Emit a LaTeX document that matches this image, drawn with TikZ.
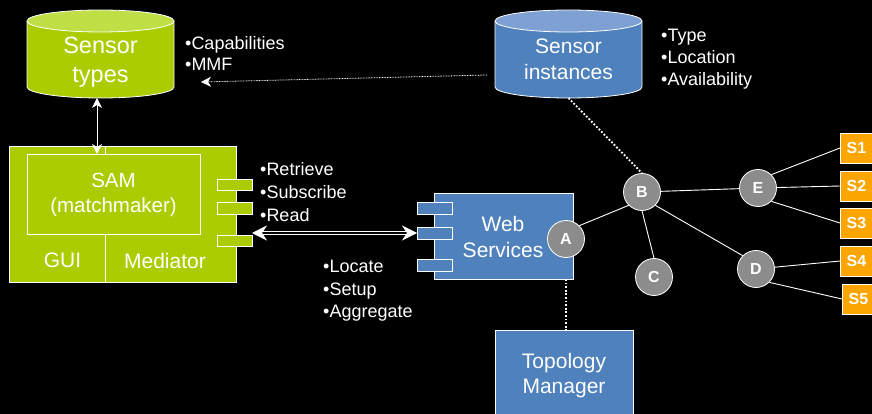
\documentclass[tikz,border=0pt]{standalone}
\usepackage{fontspec}
\setmainfont{Liberation Sans}
\usetikzlibrary{arrows.meta,calc}
\definecolor{limefill}{RGB}{170,204,0}
\definecolor{limetop}{RGB}{192,222,70}
\definecolor{bluefill}{RGB}{79,129,189}
\definecolor{bluetop}{RGB}{126,160,210}
\definecolor{nodegray}{RGB}{140,140,140}
\definecolor{sensororange}{RGB}{250,165,0}

\begin{document}
\begin{tikzpicture}[x=1pt,y=-1pt,
  outline/.style={draw=white, line width=0.8pt},
  extent/.style={rectangle, minimum width=147pt, minimum height=88pt, inner sep=0, outer sep=0},
  cylbody/.style={draw=white, line width=0.8pt},
  greenpanel/.style={rectangle, inner sep=0, outer sep=0, fill=limefill, outline},
  bluepanel/.style={rectangle, inner sep=0, outer sep=0, fill=bluefill, outline},
  port/.style={rectangle, minimum width=35pt, minimum height=11.5pt, inner sep=0, outer sep=0, outline, anchor=north west},
  hub/.style={circle, minimum size=37pt, inner sep=0, fill=nodegray, draw=white, line width=0.8pt, text=white, font=\fontsize{16}{16}\selectfont\bfseries},
  sensorbox/.style={rectangle, minimum width=32pt, minimum height=30pt, inner sep=0, fill=sensororange, draw=white, line width=0.8pt, text=white, font=\fontsize{16}{16}\selectfont\bfseries, anchor=west},
  listtext/.style={anchor=base west, inner sep=0, text=white, font=\fontsize{18}{18}\selectfont},
  boxtext/.style={text=white, align=center, inner sep=0},
  link/.style={draw=white, line width=0.9pt},
  finedots/.style={draw=white, line width=0.8pt, dash pattern=on 0.8pt off 0.8pt},
  heavydots/.style={draw=white, line width=1.8pt, dash pattern=on 1.8pt off 1.8pt},
  tipsmall/.tip={Stealth[length=10pt,width=10pt,inset=3pt]},
  tiplarge/.tip={Stealth[length=15pt,width=15pt,inset=5pt]},
]
\fill[black] (0,0) rectangle (872,414);
\useasboundingbox (0,0) rectangle (872,414);

% ---- Sensor types store
\node[extent] (stypes) at (100.5,54) {};
\path[cylbody, fill=limefill] ([yshift=-11pt]stypes.north west) -- ([yshift=11pt]stypes.south west)
  arc[start angle=180,end angle=360,x radius=73.5pt,y radius=11pt] -- ([yshift=-11pt]stypes.north east);
\path[cylbody, fill=limetop] ([yshift=-11pt]stypes.north) ellipse[x radius=73.5pt,y radius=11pt];
\node[boxtext, font=\fontsize{23.5}{29.5}\selectfont] (stypestext) at ([yshift=-8pt]stypes.center) {Sensor\\types};

% ---- Sensor instances store
\node[extent] (sinst) at (568.5,54) {};
\path[cylbody, fill=bluefill] ([yshift=-11pt]sinst.north west) -- ([yshift=11pt]sinst.south west)
  arc[start angle=180,end angle=360,x radius=73.5pt,y radius=11pt] -- ([yshift=-11pt]sinst.north east);
\path[cylbody, fill=bluetop] ([yshift=-11pt]sinst.north) ellipse[x radius=73.5pt,y radius=11pt];
\node[boxtext, font=\fontsize{21}{26}\selectfont] (sinsttext) at ([yshift=-5.7pt]sinst.center) {Sensor\\instances};

% ---- Attribute lists
\node[listtext] (capab) at (185,49.5) {•Capabilities};
\node[listtext] (mmf) at (185,71) {•MMF};
\node[listtext] (ltype) at (661,41.7) {•Type};
\node[listtext] (lloc) at (661,63.7) {•Location};
\node[listtext] (lavail) at (661,86) {•Availability};
\node[listtext] (lretr) at (260,176) {•Retrieve};
\node[listtext] (lsub) at (260,198.5) {•Subscribe};
\node[listtext] (lread) at (260,221) {•Read};
\node[listtext] (lloca) at (323,272.7) {•Locate};
\node[listtext] (lsetup) at (323,295.2) {•Setup};
\node[listtext] (laggr) at (323,317.7) {•Aggregate};

% ---- SAM component
\node[greenpanel, minimum width=227pt, minimum height=136pt, anchor=north west] (sam) at (9,146) {};
\draw[outline] ([xshift=96pt]sam.north west) -- ([xshift=96pt]sam.south west);
\node[greenpanel, minimum width=173pt, minimum height=80pt, anchor=north west] (samcore) at (27,154) {};
\node[boxtext, font=\fontsize{20.5}{25}\selectfont] (samtext) at (113.5,195) {SAM\\(matchmaker)};
\node[boxtext, font=\fontsize{21}{21}\selectfont] (gui) at (62.5,260.5) {GUI};
\node[boxtext, font=\fontsize{21}{21}\selectfont] (mediator) at (165,260.5) {Mediator};
\node[port, fill=limefill] (samp1) at (217,179) {};
\node[port, fill=limefill] (samp2) at (217,202.5) {};
\node[port, fill=limefill] (samp3) at (217,235) {};

% ---- Web Services component
\node[bluepanel, minimum width=139pt, minimum height=86pt, anchor=north west] (ws) at (434,193) {};
\node[port, fill=bluefill, minimum height=12pt] (wsp1) at (417,202) {};
\node[port, fill=bluefill, minimum height=12pt] (wsp2) at (417,227) {};
\node[port, fill=bluefill, minimum height=12pt] (wsp3) at (417,259) {};
\node[boxtext, font=\fontsize{21}{25.6}\selectfont] (wstext) at (503,237) {Web\\Services};

% ---- Topology Manager
\node[bluepanel, minimum width=138pt, minimum height=100pt, anchor=north west] (topo) at (495,330) {};
\node[boxtext, font=\fontsize{21}{25}\selectfont] (topotext) at (564,375.5) {Topology\\Manager};

% ---- Network nodes and sensors
\node[hub] (A) at (566,239) {A};
\node[hub] (B) at (642,192) {B};
\node[hub] (C) at (654,277) {C};
\node[hub] (D) at (756,269) {D};
\node[hub] (E) at (758,188) {E};
\node[sensorbox] (S1) at (840,148) {S1};
\node[sensorbox] (S2) at (840,186) {S2};
\node[sensorbox] (S3) at (840,223) {S3};
\node[sensorbox] (S4) at (840,261) {S4};
\node[sensorbox] (S5) at (842,299) {S5};

% ---- Connectors
\draw[link, tipsmall-tipsmall] ([xshift=-3.5pt]stypes.south) -- ([xshift=-3.5pt]stypes.south |- samcore.north);
\coordinate (instleft) at (487,75);
\coordinate (typesnote) at (201,82);
\draw[finedots, -tipsmall] (instleft) -- (typesnote);
\draw[white, line width=0.8pt, double=black, double distance=1.6pt, tiplarge-tiplarge]
  (samp3.east |- wsp2.center) -- (wsp2.west);
\draw[heavydots] (sinst.south) -- (B.north);
\draw[heavydots] (ws.south -| A) -- (topo.north -| A);

\draw[link] (A.45) -- (B.225);
\draw[link] (B) -- (E);
\draw[link] (B.south) -- (C.north);
\draw[link] (B.-45) -- (D.135);
\draw[link] (E.45) -- (S1.west);
\draw[link] (E) -- (S2.west);
\draw[link] (E.-45) -- (S3.west);
\draw[link] (D) -- (S4.west);
\draw[link] (D.-45) -- (S5.west);
\end{tikzpicture}
\end{document}
